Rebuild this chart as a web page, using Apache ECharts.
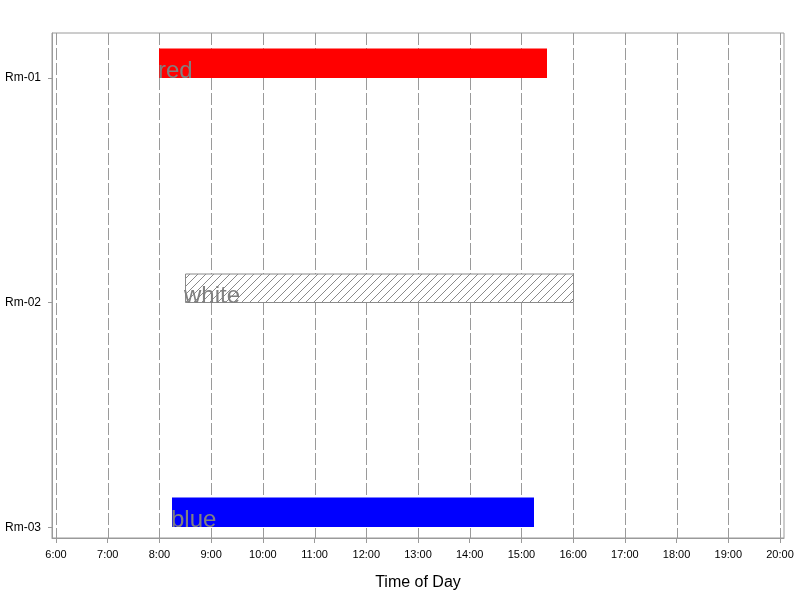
<!DOCTYPE html>
<html>
<head>
<meta charset="utf-8">
<script src="https://cdn.jsdelivr.net/npm/echarts@6/dist/echarts.min.js"></script>
<style>html,body{margin:0;padding:0;background:#fff}#c{width:800px;height:600px}</style>
</head>
<body>
<div id="c"></div>
<script>
// Data
const rooms = ['Rm-01', 'Rm-02', 'Rm-03'];
const startHours = [8.0, 8.5, 8.25];
const endHours = [15.5, 16.0, 15.25];
const barLabels = ['red', 'white', 'blue'];
const hourTicks = [6,7,8,9,10,11,12,13,14,15,16,17,18,19,20];

const X_MIN = 6 - 0.0774, X_MAX = 20 + 0.0774;
const Y_MIN = 0.8, Y_MAX = 3.047;

// hatch pattern for the "white" bar
function makeHatch() {
  const s = 8;
  const c = document.createElement('canvas');
  c.width = s; c.height = s;
  const g = c.getContext('2d');
  g.fillStyle = '#fff';
  g.fillRect(0, 0, s, s);
  g.strokeStyle = '#8a8a8a';
  g.lineWidth = 1;
  g.beginPath();
  g.moveTo(-1, s + 1); g.lineTo(s + 1, -1);
  g.moveTo(-1, 1); g.lineTo(1, -1);
  g.moveTo(s - 1, s + 1); g.lineTo(s + 1, s - 1);
  g.stroke();
  return c;
}
const hatch = makeHatch();
const fills = [
  {color: '#ff0000', stroke: null},
  {color: {image: hatch, repeat: 'repeat'}, stroke: '#8a8a8a'},
  {color: '#0000ff', stroke: null}
];

const data = rooms.map((r, i) => [startHours[i], endHours[i], i + 1]);

const chart = echarts.init(document.getElementById('c'), null, {renderer: 'canvas'});
chart.setOption({
  animation: false,
  backgroundColor: '#fff',
  grid: {left: 52, right: 16, top: 33, bottom: 62, show: true, borderColor: '#9a9a9a', borderWidth: 1, backgroundColor: 'transparent'},
  xAxis: {
    type: 'value',
    min: X_MIN,
    max: X_MAX,
    name: 'Time of Day',
    nameLocation: 'middle',
    nameGap: 37,
    nameTextStyle: {fontSize: 16, color: '#000', fontFamily: 'Liberation Sans, Arial, sans-serif'},
    axisLine: {show: true, lineStyle: {color: '#9a9a9a'}},
    axisTick: {show: true, length: 5, lineStyle: {color: '#9a9a9a'}, customValues: hourTicks},
    axisLabel: {
      customValues: hourTicks,
      fontSize: 11, color: '#000', margin: 11,
      fontFamily: 'Liberation Sans, Arial, sans-serif',
      formatter: v => Math.round(v) + ':00'
    },
    splitLine: {show: false}
  },
  yAxis: {
    type: 'value',
    inverse: true,
    min: Y_MIN,
    max: Y_MAX,
    axisLine: {show: true, lineStyle: {color: '#9a9a9a'}},
    axisTick: {show: true, length: 4, lineStyle: {color: '#9a9a9a'}, customValues: [1, 2, 3]},
    axisLabel: {
      customValues: [1, 2, 3],
      fontSize: 12, color: '#000', margin: 11,
      fontFamily: 'Liberation Sans, Arial, sans-serif',
      formatter: v => rooms[Math.round(v) - 1] || ''
    },
    splitLine: {show: false}
  },
  series: [
    {
      type: 'custom',
      silent: true,
      z: 1,
      renderItem: function (params, api) {
        const children = hourTicks.map(h => {
          const p1 = api.coord([h, Y_MIN]);
          const p2 = api.coord([h, Y_MAX]);
          const x = Math.round(p1[0]) + 0.5;
          return {
            type: 'line',
            shape: {x1: x, y1: p1[1], x2: x, y2: p2[1]},
            style: {stroke: '#9a9a9a', lineWidth: 1, lineDash: [12, 3]}
          };
        });
        return {type: 'group', children: children};
      },
      data: [[0, 0]]
    },
    {
      type: 'custom',
      z: 3,
      renderItem: function (params, api) {
        const i = params.dataIndex;
        const s = api.coord([api.value(0), api.value(2)]);
        const e = api.coord([api.value(1), api.value(2)]);
        const h = 29.5;
        const f = fills[i];
        const x0 = Math.round(s[0]), x1 = Math.round(e[0]);
        const yb = Math.round(s[1]);
        const rect = {
          type: 'rect',
          shape: {x: x0 + (f.stroke ? 0.5 : 0), y: yb - h + (f.stroke ? 0.5 : 0), width: x1 - x0, height: h - (f.stroke ? 1 : 0)},
          style: {fill: f.color, stroke: f.stroke, lineWidth: f.stroke ? 1 : 0}
        };
        const txt = {
          type: 'text',
          x: x0 - 1,
          y: yb + 5,
          style: {
            text: barLabels[i],
            fill: '#808080',
            font: '24px "Liberation Sans", Arial, sans-serif',
            textAlign: 'left',
            textVerticalAlign: 'bottom'
          }
        };
        return {type: 'group', children: [rect, txt]};
      },
      encode: {x: [0, 1], y: 2},
      data: data
    }
  ]
});
</script>
</body>
</html>
